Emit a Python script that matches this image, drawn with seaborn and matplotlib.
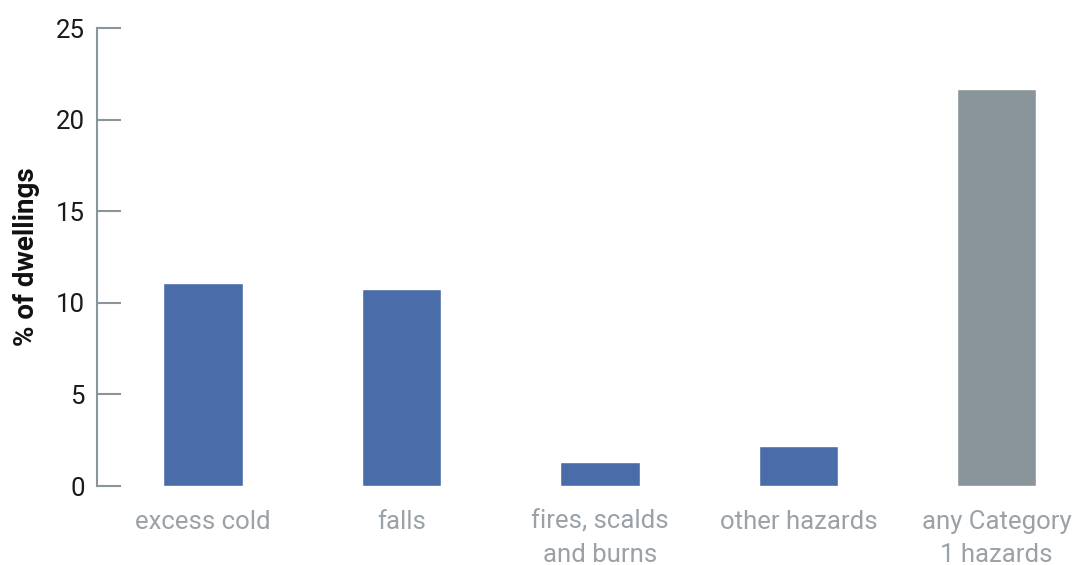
import matplotlib
matplotlib.use("Agg")
import matplotlib.pyplot as plt
import seaborn as sns
import pandas as pd

categories = ["excess cold", "falls", "fires, scalds\nand burns", "other hazards", "any Category\n1 hazards"]
values = [11.1, 10.75, 1.3, 2.2, 21.65]
colors = ["#4a6ca9", "#4a6ca9", "#4a6ca9", "#4a6ca9", "#8a959b"]
yticks = [0, 5, 10, 15, 20, 25]

sns.set_style("white")
plt.rcParams['font.family'] = ['Roboto', 'DejaVu Sans']

df = pd.DataFrame({"cat": categories, "val": values})

fig = plt.figure(figsize=(10.86, 5.65), dpi=100)
ax = fig.add_axes([97/1086, 1 - 486/565, 1 - 97/1086, (486 - 28)/565])
sns.barplot(data=df, x="cat", y="val", hue="cat", palette=colors, legend=False,
            width=0.4, saturation=1, ax=ax)

ax.set_xlim(-0.535, 4.45)
ax.set_ylim(0, 25)
ax.set_yticks(yticks)
ax.set_yticklabels([str(t) for t in yticks])
for s in ["top", "right", "bottom"]:
    ax.spines[s].set_visible(False)
ax.spines["left"].set_color("#8a949b")
ax.spines["left"].set_linewidth(1.5)
ax.tick_params(axis="y", direction="in", length=17, width=1.5, color="#8a949b",
               pad=9, labelsize=18.5, labelcolor="#1a1a1a", left=True)
ax.tick_params(axis="x", length=0, pad=17, labelsize=18.5, labelcolor="#9aa2a8")
for lab in ax.get_xticklabels():
    lab.set_linespacing(1.5)
ax.set_xlabel("")
ax.set_ylabel("% of dwellings", fontsize=20, fontweight="bold", color="#111111", labelpad=11)

fig.savefig("out.png", dpi=100)
